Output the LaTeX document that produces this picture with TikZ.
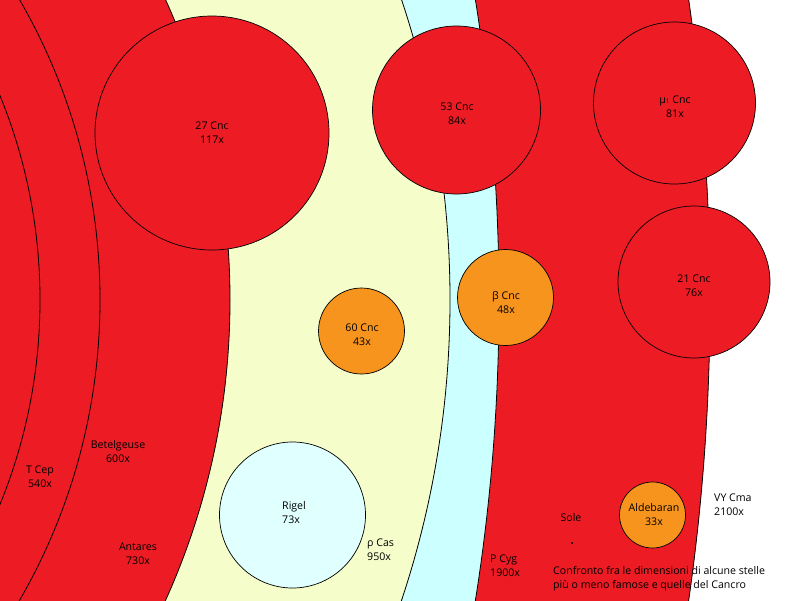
\documentclass[tikz,border=0pt]{standalone}
\usepackage{fontspec}
\setmainfont{Open Sans}
\definecolor{starred}{HTML}{ED1C24}
\definecolor{staryel}{HTML}{F5FDCA}
\definecolor{starcyan}{HTML}{CCFFFF}
\definecolor{starorange}{HTML}{F7941D}
\definecolor{starrigel}{HTML}{E0FFFF}
\newcommand{\muone}{μ{\fontsize{6.5}{7}\selectfont 1}}
\begin{document}
\begin{tikzpicture}[x=1pt,y=-1pt,
  bigstar/.style={draw=black, line width=0.8pt},
  star/.style={circle, draw=black, line width=0.7pt, inner sep=0pt, minimum size=#1},
  lbl/.style={font=\fontsize{10.6}{14}\selectfont, inner sep=0pt},
  lblc/.style={lbl, align=center},
  lbll/.style={lbl, align=left, anchor=west}]
\useasboundingbox (0,0) rectangle (800,600);
\begin{scope}
\clip (0,0) rectangle (800,600);
\fill[white] (0,0) rectangle (800,600);
% VY Cma
\filldraw[bigstar, fill=starred] (-1390,300) circle[radius=2100pt];
% P Cyg
\filldraw[bigstar, fill=starcyan] (-1401,300) circle[radius=1900pt];
% rho Cas
\filldraw[bigstar, fill=staryel] (-500,300) circle[radius=950pt];
% Antares
\filldraw[bigstar, fill=starred] (-500,300) circle[radius=730pt];
% Betelgeuse
\filldraw[bigstar, fill=starred] (-500,300) circle[radius=600pt];
% T Cep
\filldraw[bigstar, fill=starred] (-500,300) circle[radius=540pt];
\end{scope}
% smaller stars
\node[star=234pt, fill=starred] (c27) at (212,133) {};
\node[star=168pt, fill=starred] (c53) at (456.5,110) {};
\node[star=162pt, fill=starred] (mu1) at (674.5,103) {};
\node[star=152pt, fill=starred] (c21) at (694,282) {};
\node[star=96pt, fill=starorange] (beta) at (505.5,297.5) {};
\node[star=86pt, fill=starorange] (c60) at (361.5,331) {};
\node[star=146pt, fill=starrigel] (rigel) at (292.5,515) {};
\node[star=66pt, fill=starorange] (alde) at (652.5,515) {};
\fill[black] (572,543) circle[radius=1.1pt];
\coordinate (sun) at (572,543);
% labels of the smaller stars
\node[lblc] (l27) at (212,132.5) {27 Cnc\\117x};
\node[lblc] (l53) at (457,114) {53 Cnc\\84x};
\node[lblc] (lmu1) at (675,107) {\muone{} Cnc\\81x};
\node[lblc] (l21) at (694,286) {21 Cnc\\76x};
\node[lblc] (lbeta) at (506,302) {β Cnc\\48x};
\node[lblc] (l60) at (362,335) {60 Cnc\\43x};
\node[lbll] (lrigel) at (282,513) {Rigel\\73x};
\node[lblc] (lalde) at (654,515) {Aldebaran\\33x};
% labels of the large stars
\node[lblc] (tcep) at (40,477) {T Cep\\540x};
\node[lblc] (betel) at (118,452) {Betelgeuse\\600x};
\node[lblc] (antares) at (138,554) {Antares\\730x};
\node[lbll] (rhocas) at (367,550) {ρ Cas\\950x};
\node[lbll] (pcyg) at (490,566) {P Cyg\\1900x};
\node[lbll] (vycma) at (714,505) {VY Cma\\2100x};
\node[lblc] (sole) at (571,518) {Sole};
\node[lbll] (title) at (553,579) {Confronto fra le dimensioni di alcune stelle\\più o meno famose e quelle del Cancro};
\end{tikzpicture}
\end{document}
